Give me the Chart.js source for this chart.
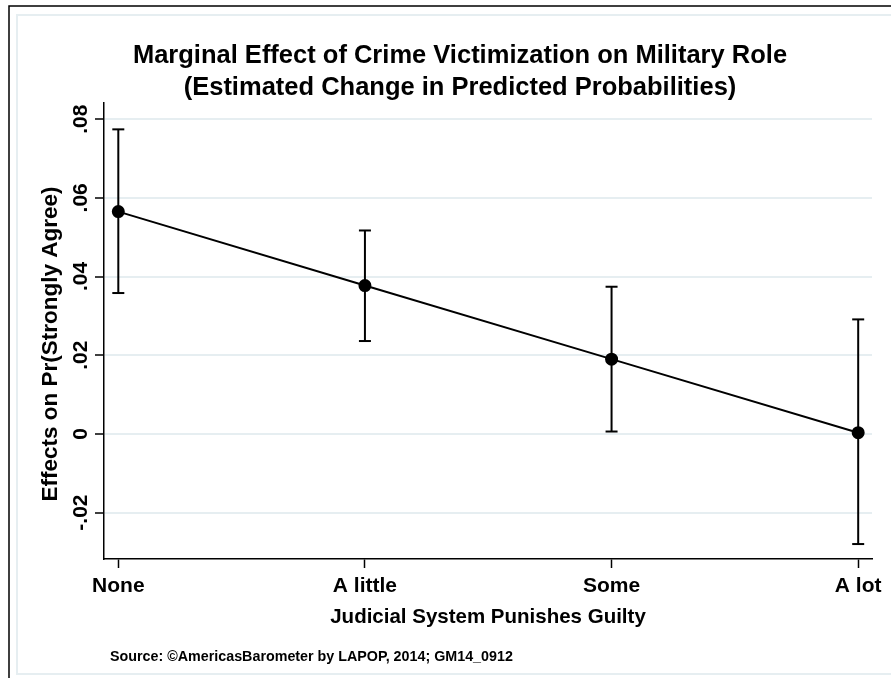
<!DOCTYPE html>
<html lang="en">
<head>
  <meta charset="UTF-8" />
  <title>Marginal Effect of Crime Victimization on Military Role</title>
  <script src="https://cdn.jsdelivr.net/npm/chart.js"></script>
  <style>
    html, body { margin: 0; padding: 0; background: #fff; }
    #wrap { width: 891px; height: 678px; }
  </style>
</head>
<body>
  <div id="wrap">
    <canvas id="effectChart" width="891" height="678"></canvas>
  </div>

  <script>
    // data
    const categories = ["None", "A little", "Some", "A lot"];
    const estimates = [0.0565, 0.0377, 0.0190, 0.0003];
    const lowerCI = [0.0358, 0.0236, 0.0006, -0.0280];
    const upperCI = [0.0774, 0.0517, 0.0374, 0.0291];
    const yTicks = [-0.02, 0, 0.02, 0.04, 0.06, 0.08];
    const yTickLabels = ["-.02", "0", ".02", ".04", ".06", ".08"];

    const titleLines = [
      "Marginal Effect of Crime Victimization on Military Role",
      "(Estimated Change in Predicted Probabilities)"
    ];
    const xTitle = "Judicial System Punishes Guilty";
    const yTitle = "Effects on Pr(Strongly Agree)";
    const sourceNote = "Source: \u00A9AmericasBarometer by LAPOP, 2014; GM14_0912";

    const FONT = '"Liberation Sans", Arial, Helvetica, sans-serif';
    const gridColor = "#e6eef1";

    // main line + markers first so it sits on top
    const datasets = [{
      data: categories.map((c, i) => ({ x: i + 1, y: estimates[i] })),
      borderColor: "#000",
      borderWidth: 2,
      pointRadius: 5.5,
      pointHoverRadius: 5.5,
      pointBackgroundColor: "#000",
      pointBorderColor: "#000",
      tension: 0
    }];

    // one little dataset per error bar, caps are 'line' points
    categories.forEach((c, i) => {
      datasets.push({
        data: [{ x: i + 1, y: lowerCI[i] }, { x: i + 1, y: upperCI[i] }],
        borderColor: "#000",
        borderWidth: 2,
        pointStyle: "line",
        pointRadius: 6,
        pointHoverRadius: 6,
        pointBorderWidth: 2,
        pointBorderColor: "#000"
      });
    });

    const decorations = {
      id: "decorations",
      beforeDraw(chart) {
        const ctx = chart.ctx;
        ctx.save();
        ctx.fillStyle = "#fff";
        ctx.fillRect(0, 0, chart.width, chart.height);
        // outer black frame (only top/left visible)
        ctx.strokeStyle = "#000";
        ctx.lineWidth = 1.5;
        ctx.beginPath();
        ctx.moveTo(9, chart.height);
        ctx.lineTo(9, 6);
        ctx.lineTo(chart.width, 6);
        ctx.stroke();
        // inner light frame
        ctx.strokeStyle = gridColor;
        ctx.lineWidth = 2;
        ctx.beginPath();
        ctx.moveTo(chart.width, 15);
        ctx.lineTo(17, 15);
        ctx.lineTo(17, 674);
        ctx.lineTo(chart.width, 674);
        ctx.stroke();
        ctx.restore();
      },
      afterDraw(chart) {
        const ctx = chart.ctx;
        const yScale = chart.scales.y;
        ctx.save();
        ctx.fillStyle = "#000";

        // title
        ctx.font = "bold 25.5px " + FONT;
        ctx.textAlign = "center";
        ctx.textBaseline = "alphabetic";
        ctx.fillText(titleLines[0], 460, 63);
        ctx.fillText(titleLines[1], 460, 95);

        // rotated y tick labels
        ctx.font = "bold 21px " + FONT;
        yTicks.forEach((v, i) => {
          const py = yScale.getPixelForValue(v);
          ctx.save();
          ctx.translate(87, py);
          ctx.rotate(-Math.PI / 2);
          ctx.textAlign = "center";
          ctx.textBaseline = "alphabetic";
          ctx.fillText(yTickLabels[i], 0, 0);
          ctx.restore();
        });

        // y axis title
        ctx.font = "bold 22.5px " + FONT;
        ctx.save();
        ctx.translate(51, 344);
        ctx.rotate(-Math.PI / 2);
        ctx.textAlign = "center";
        ctx.textBaseline = "middle";
        ctx.fillText(yTitle, 0, 0);
        ctx.restore();

        // source note
        ctx.font = "bold 14.3px " + FONT;
        ctx.textAlign = "left";
        ctx.textBaseline = "alphabetic";
        ctx.fillText(sourceNote, 110, 661);
        ctx.restore();
      }
    };

    new Chart(document.getElementById("effectChart"), {
      type: "line",
      data: { datasets },
      options: {
        responsive: false,
        animation: false,
        layout: { padding: { top: 103, right: 19, bottom: 0, left: 0 } },
        plugins: {
          legend: { display: false },
          tooltip: { enabled: false },
          title: { display: false }
        },
        scales: {
          x: {
            type: "linear",
            min: 0.942,
            max: 4.056,
            afterFit: s => { s.height = 119; },
            afterBuildTicks: s => { s.ticks = categories.map((c, i) => ({ value: i + 1 })); },
            border: { color: "#000", width: 1.5 },
            grid: {
              drawOnChartArea: false,
              drawTicks: true,
              tickLength: 9,
              tickColor: "#000",
              tickWidth: 1.5
            },
            ticks: {
              autoSkip: false,
              maxRotation: 0,
              padding: 6,
              color: "#000",
              font: { family: FONT, size: 21, weight: "bold" },
              callback: v => categories[v - 1]
            },
            title: {
              display: true,
              text: xTitle,
              color: "#000",
              font: { family: FONT, size: 20.5, weight: "bold" },
              padding: { top: 0, bottom: 48 }
            }
          },
          y: {
            type: "linear",
            min: -0.0318,
            max: 0.0841,
            afterFit: s => { s.width = 104; },
            afterBuildTicks: s => { s.ticks = yTicks.map(v => ({ value: v })); },
            border: { color: "#000", width: 1.5 },
            grid: {
              color: gridColor,
              lineWidth: 2,
              drawTicks: true,
              tickLength: 9,
              tickColor: "#000",
              tickWidth: 1.5
            },
            ticks: { display: false }
          }
        }
      },
      plugins: [decorations]
    });
  </script>
</body>
</html>
